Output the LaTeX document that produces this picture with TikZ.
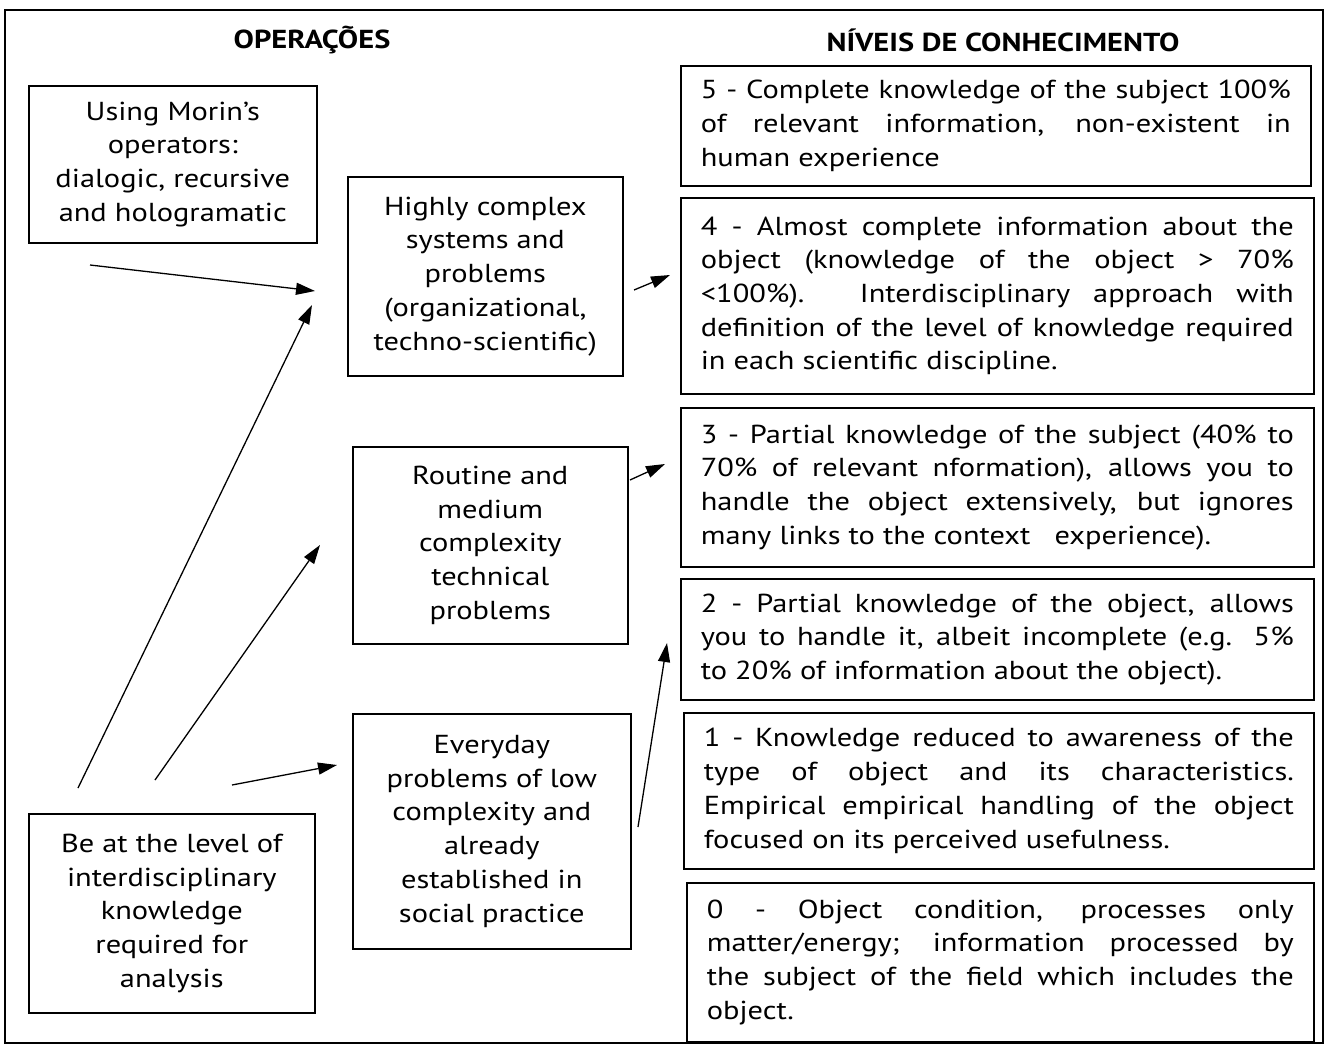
\documentclass[tikz,border=0pt]{standalone}
\usepackage{fontspec}
\setmainfont{PT Sans}[FakeStretch=1.17]
\usetikzlibrary{arrows.meta}

\tikzset{
  box/.style={draw, line width=1.6pt, anchor=north west, inner sep=0pt,
    align=center, font=\fontsize{26}{33.7}\selectfont},
  lvl/.style={box, align=justify, inner xsep=20pt},
  head/.style={font=\bfseries\fontsize{26}{30}\selectfont},
  arr/.style={-{Triangle[length=19pt,width=12pt]}, line width=1.3pt},
}

\begin{document}
\begin{tikzpicture}[x=1pt,y=-1pt]
\useasboundingbox (0,0) rectangle (1329,1046);
\draw[line width=1.6pt] (5,10) rectangle (1323,1043);

% headers
\node[head] (hop) at (312,40) {OPERAÇÕES};
\node[head] (hniv) at (1003,40) {NÍVEIS DE CONHECIMENTO};

% left column
\node[box, minimum width=288pt, minimum height=157pt] (morin) at (28,85)
  {Using Morin{\char"27}s\\operators:\\dialogic, recursive\\and hologramatic};
\node[box, minimum width=286pt, minimum height=199pt] (inter) at (28,813)
  {Be at the level of\\interdisciplinary\\knowledge\\required for\\analysis};

% middle column
\node[box, minimum width=275pt, minimum height=199pt] (high) at (347,176)
  {Highly complex\\systems and\\problems\\(organizational,\\techno-scientific)};
\node[box, minimum width=275pt, minimum height=197pt] (rout) at (352,446)
  {Routine and\\medium\\complexity\\technical\\problems};
\node[box, minimum width=278pt, minimum height=235pt] (every) at (352,713)
  {Everyday\\problems of low\\complexity and\\already\\established in\\social practice};

% knowledge levels
\node[lvl, text width=590pt, minimum height=120pt] (n5) at (680,65)
  {5 - Complete knowledge of the subject 100\%\linebreak of relevant information, non-existent in\linebreak human experience};
\node[lvl, text width=593pt, minimum height=196pt] (n4) at (680,197)
  {4 - Almost complete information about the\linebreak object (knowledge of the object > 70\%\linebreak <100\%). Interdisciplinary approach with\linebreak definition of the level of knowledge required\linebreak in each scientific discipline.};
\node[lvl, text width=593pt, minimum height=159pt] (n3) at (680,407)
  {3 - Partial knowledge of the subject (40\% to\linebreak 70\% of relevant nformation), allows you to\linebreak handle the object extensively, but ignores\linebreak many links to the context \ \ experience).};
\node[lvl, text width=593pt, minimum height=121pt] (n2) at (680,578)
  {2 - Partial knowledge of the object, allows\linebreak you to handle it, albeit incomplete (e.g. 5\%\linebreak to 20\% of information about the object).};
\node[lvl, text width=590pt, minimum height=156pt] (n1) at (683,712)
  {1 - Knowledge reduced to awareness of the\linebreak type of object and its characteristics.\linebreak Empirical empirical handling of the object\linebreak focused on its perceived usefulness.};
\node[lvl, text width=587pt, minimum height=159pt] (n0) at (686,882)
  {0 - Object condition, processes only\linebreak matter/energy; information processed by\linebreak the subject of the field which includes the\linebreak object.};

% arrow ends
\coordinate (a1s) at (90,265);   \coordinate (a1e) at (315,291);
\coordinate (a2s) at (78,788);   \coordinate (a2e) at (312,305);
\coordinate (a3s) at (155,780);  \coordinate (a3e) at (320,545);
\coordinate (a4s) at (232,785);  \coordinate (a4e) at (337,765);
\coordinate (a5s) at (634,290);  \coordinate (a5e) at (670,275);
\coordinate (a6s) at (630,480);  \coordinate (a6e) at (665,464);
\coordinate (a7s) at (638,827);  \coordinate (a7e) at (667,643);

\foreach \s/\e in {a1s/a1e,a2s/a2e,a3s/a3e,a4s/a4e,a5s/a5e,a6s/a6e,a7s/a7e}
  \draw[arr] (\s) -- (\e);
\end{tikzpicture}
\end{document}
